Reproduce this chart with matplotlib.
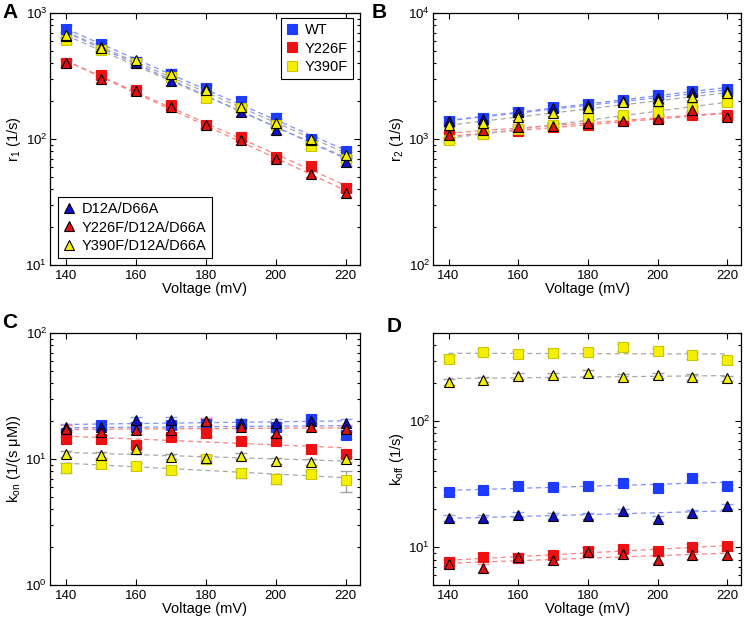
import numpy as np
import matplotlib
matplotlib.use('Agg')
import matplotlib.pyplot as plt
from matplotlib.ticker import LogLocator, NullFormatter

plt.rcParams['font.family'] = ['Liberation Sans', 'DejaVu Sans']
plt.rcParams['mathtext.fontset'] = 'custom'
plt.rcParams['mathtext.rm'] = 'Liberation Sans'
plt.rcParams['mathtext.it'] = 'Liberation Sans:italic'
plt.rcParams['mathtext.default'] = 'regular'

voltage = [140, 150, 160, 170, 180, 190, 200, 210, 220]
names = ['WT', 'Y226F', 'Y390F', 'D12A/D66A', 'Y226F/D12A/D66A', 'Y390F/D12A/D66A']

# panel A, r1 (1/s)
r1_wt      = [740, 570, 410, 330, 255, 200, 148, 100, 80]
r1_y226f   = [400, 320, 244, 185, 129, 104, 72, 61, 41]
r1_y390f   = [610, 510, 400, 310, 210, 175, 130, 88, 70]
r1_d       = [660, 540, 400, 290, 250, 165, 118, 98, 66]
r1_y226f_d = [400, 300, 240, 180, 130, 98, 70, 53, 37]
r1_y390f_d = [670, 530, 420, 330, 245, 180, 135, 100, 75]

# panel B, r2 (1/s)
r2_wt      = [1400, 1480, 1650, 1800, 1900, 2050, 2250, 2400, 2500]
r2_y226f   = [1050, 1100, 1150, 1250, 1300, 1400, 1450, 1550, 1550]
r2_y390f   = [980, 1100, 1200, 1300, 1500, 1550, 1650, 1750, 1950]
r2_d       = [1400, 1450, 1650, 1750, 1850, 2000, 2100, 2350, 2400]
r2_y226f_d = [1080, 1180, 1250, 1270, 1350, 1400, 1450, 1700, 1500]
r2_y390f_d = [1300, 1350, 1500, 1600, 1750, 1950, 2000, 2150, 2300]

# panel C, kon (1/(s uM))
kon_wt      = [16, 18.5, 18, 18.5, 19, 19, 18, 21, 15.5]
kon_y226f   = [14.5, 14.5, 13, 15, 16, 14, 14, 12, 11]
kon_y390f   = [8.5, 9.2, 8.8, 8.2, 10, 7.7, 7.0, 7.6, 6.8]
kon_d       = [18, 18, 20.5, 20.5, 20, 19.5, 19.5, 20, 19.5]
kon_y226f_d = [17.5, 16.5, 17, 17, 20, 18, 16, 18, 17.5]
kon_y390f_d = [11, 10.8, 12, 10.5, 10.2, 10.6, 9.7, 9.5, 10]

# panel D, koff (1/s)
koff_wt      = [27.4, 28.3, 30.5, 30, 30.8, 32.4, 29.6, 35.5, 30.5]
koff_y226f   = [7.7, 8.4, 8.2, 8.7, 9.4, 9.7, 9.3, 10.0, 10.2]
koff_y390f   = [314, 355, 342, 350, 355, 386, 360, 334, 305]
koff_d       = [17.1, 17.1, 18.2, 17.8, 17.8, 19.3, 16.8, 18.7, 21.1]
koff_y226f_d = [7.4, 6.85, 8.4, 7.9, 9.2, 8.9, 8.0, 8.7, 8.7]
koff_y390f_d = [205, 214, 228, 231, 242, 225, 231, 224, 219]

# relative errors (fraction of value)
rel_err_a = [0.08, 0.07, 0.06, 0.07, 0.06, 0.06]
rel_err_b = [0.07, 0.06, 0.05, 0.06, 0.05, 0.05]
rel_err_c = [0.07, 0.06, 0.08, 0.06, 0.06, 0.05]
rel_err_d = [0.05, 0.07, 0.06, 0.05, 0.07, 0.05]
kon_y390f_err = [0.8, 0.7, 0.6, 0.6, 0.6, 0.6, 0.6, 0.5, 1.3]

face = ['#1e3cff', '#ee1111', '#f5f000', '#1010c8', '#e01010', '#f5f000']
edge = ['#1e3cff', '#ee1111', '#c8c800', 'k', 'k', 'k']
marker = ['s', 's', 's', '^', '^', '^']
fitcol = ['#8090ff', '#ff8080', '#a8a8a8', '#8090ff', '#ff8080', '#a8a8a8']
errcol = ['#8da0ff', '#ff8c8c', '#a0a0a0', '#8da0ff', '#ff8c8c', '#a0a0a0']


def draw_panel(ax, series, rel_err, ylims, ylabel, abs_err=None):
    v = np.array(voltage, dtype=float)
    for i, y in enumerate(series):
        y = np.array(y, dtype=float)
        p = np.polyfit(v, np.log10(y), 1)
        ax.plot(v, 10 ** np.polyval(p, v), '--', color=fitcol[i], lw=0.9, dashes=(4, 3), zorder=1)
    for i, y in enumerate(series):
        y = np.array(y, dtype=float)
        if abs_err is not None and i in abs_err:
            e = np.array(abs_err[i])
        else:
            e = y * rel_err[i]
        ax.errorbar(v, y, yerr=e, fmt='none', ecolor=errcol[i], elinewidth=1.0, capsize=4, capthick=1.0, zorder=2)
        ax.plot(v, y, linestyle='none', marker=marker[i], ms=6.5 if marker[i] == 's' else 7,
                mfc=face[i], mec=edge[i], mew=0.8, zorder=3 + i, label=names[i])
    ax.set_yscale('log')
    ax.set_ylim(*ylims)
    ax.set_xlim(135.5, 224)
    ax.set_xticks([140, 160, 180, 200, 220])
    ax.yaxis.set_major_locator(LogLocator(base=10, numticks=10))
    ax.yaxis.set_minor_locator(LogLocator(base=10, subs=np.arange(2, 10), numticks=20))
    ax.yaxis.set_minor_formatter(NullFormatter())
    ax.tick_params(which='both', direction='in', top=True, right=True, labelsize=9.5, width=0.8)
    ax.tick_params(which='major', length=4)
    ax.tick_params(which='minor', length=2.5)
    ax.tick_params(axis='y', pad=2)
    for s in ax.spines.values():
        s.set_linewidth(0.9)
    ax.set_xlabel('Voltage (mV)', fontsize=10.5, labelpad=0)
    ax.set_ylabel(ylabel, fontsize=10.5, labelpad=2)


fig = plt.figure(figsize=(7.45, 6.18), dpi=100)
axA = fig.add_axes([0.067, 0.571, 0.416, 0.408])
axB = fig.add_axes([0.581, 0.571, 0.414, 0.408])
axC = fig.add_axes([0.067, 0.053, 0.416, 0.408])
axD = fig.add_axes([0.581, 0.053, 0.414, 0.408])

draw_panel(axA, [r1_wt, r1_y226f, r1_y390f, r1_d, r1_y226f_d, r1_y390f_d], rel_err_a, (10, 1000), 'r$_1$ (1/s)')
draw_panel(axB, [r2_wt, r2_y226f, r2_y390f, r2_d, r2_y226f_d, r2_y390f_d], rel_err_b, (100, 10000), 'r$_2$ (1/s)')
draw_panel(axC, [kon_wt, kon_y226f, kon_y390f, kon_d, kon_y226f_d, kon_y390f_d], rel_err_c, (1, 100),
           'k$_{on}$ (1/(s \u03bcM))', abs_err={2: kon_y390f_err})
draw_panel(axD, [koff_wt, koff_y226f, koff_y390f, koff_d, koff_y226f_d, koff_y390f_d], rel_err_d, (5, 500),
           'k$_{off}$ (1/s)')

# panel letters, placed in figure pixels
W, H = 745, 618
for letter, px, py in [('A', 2, 12), ('B', 372, 12), ('C', 2, 323), ('D', 387, 327)]:
    fig.text(px / W, 1 - py / H, letter, fontsize=15, fontweight='bold', ha='left', va='center')

h, l = axA.get_legend_handles_labels()
leg_kw = dict(fontsize=10.5, fancybox=False, edgecolor='k', framealpha=1, handlelength=0.8,
              handletextpad=0.5, borderpad=0.35, borderaxespad=0, labelspacing=0.3)
leg1 = axA.legend(h[:3], l[:3], loc='upper right', bbox_to_anchor=(0.978, 0.98), **leg_kw)
leg1.get_frame().set_linewidth(0.8)
axA.add_artist(leg1)
leg2 = axA.legend(h[3:], l[3:], loc='lower left', bbox_to_anchor=(0.026, 0.028), **leg_kw)
leg2.get_frame().set_linewidth(0.8)

fig.savefig('out.png', dpi=100)
